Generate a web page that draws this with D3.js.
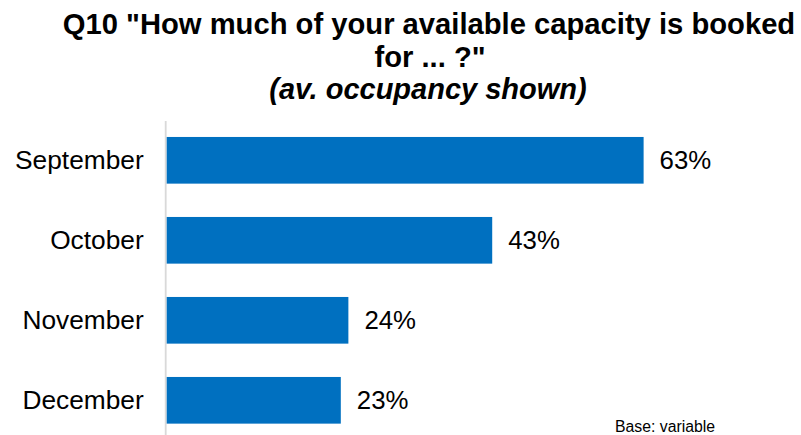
<!DOCTYPE html>
<html>
<head>
<meta charset="utf-8">
<script src="https://cdn.jsdelivr.net/npm/d3@7"></script>
<style>
  html, body { margin: 0; padding: 0; background: #fff; }
  svg { display: block; font-family: Arial, "Liberation Sans", sans-serif; }
</style>
</head>
<body>
<svg id="chart" width="801" height="435"></svg>
<script>
// Survey answers: average share of capacity booked per month
const months = ["September", "October", "November", "December"];
const occupancy = [63, 43, 24, 23];
const titleLines = ["Q10 \"How much of your available capacity is booked", "for ... ?\""];
const subtitle = "(av. occupancy shown)";
const baseNote = "Base: variable";

const svg = d3.select("#chart");
const W = 801, H = 435;

svg.append("rect").attr("width", W).attr("height", H).attr("fill", "#fff");

// Title block
const title = svg.append("text")
  .attr("text-anchor", "middle")
  .attr("font-weight", "bold")
  .attr("font-size", 29.2)
  .attr("fill", "#000");
title.append("tspan").attr("x", 429).attr("y", 34).text(titleLines[0]);
title.append("tspan").attr("x", 430).attr("y", 67).text(titleLines[1]);
svg.append("text")
  .attr("x", 428).attr("y", 99)
  .attr("text-anchor", "middle")
  .attr("font-weight", "bold")
  .attr("font-style", "italic")
  .attr("font-size", 29)
  .attr("fill", "#000")
  .text(subtitle);

// Scales
const x = d3.scaleLinear().domain([0, 100]).range([166.7, 923.7]);
const y = d3.scaleBand().domain(months).range([120.3, 440.3])
  .paddingInner(0.4166).paddingOuter(0.2083);

// Category axis (line only, labels on the left)
const yAxis = d3.axisLeft(y).tickSize(0).tickPadding(22);
const gy = svg.append("g").attr("transform", "translate(165.7,0)").call(yAxis);
gy.select(".domain").remove();
gy.selectAll("text")
  .attr("font-size", 26.3)
  .attr("fill", "#000")
  .attr("font-family", "Arial, 'Liberation Sans', sans-serif")
  .attr("dy", "0.32em");

svg.append("line")
  .attr("x1", 165.7).attr("x2", 165.7)
  .attr("y1", 121).attr("y2", H)
  .attr("stroke", "#d9d9d9").attr("stroke-width", 1.8);

// Bars
const rows = months.map((m, i) => ({ month: m, value: occupancy[i] }));
svg.append("g").selectAll("rect")
  .data(rows).join("rect")
  .attr("x", x(0))
  .attr("y", d => y(d.month))
  .attr("width", d => x(d.value) - x(0))
  .attr("height", y.bandwidth())
  .attr("fill", "#0070C0");

// Value labels
svg.append("g").selectAll("text")
  .data(rows).join("text")
  .attr("x", d => x(d.value) + 16)
  .attr("y", d => y(d.month) + y.bandwidth() / 2)
  .attr("dy", "0.35em")
  .attr("font-size", 25.8)
  .attr("fill", "#000")
  .text(d => d.value + "%");

// Footnote
svg.append("text")
  .attr("x", 615).attr("y", 432)
  .attr("font-size", 15.8)
  .attr("fill", "#000")
  .text(baseNote);
</script>
</body>
</html>
